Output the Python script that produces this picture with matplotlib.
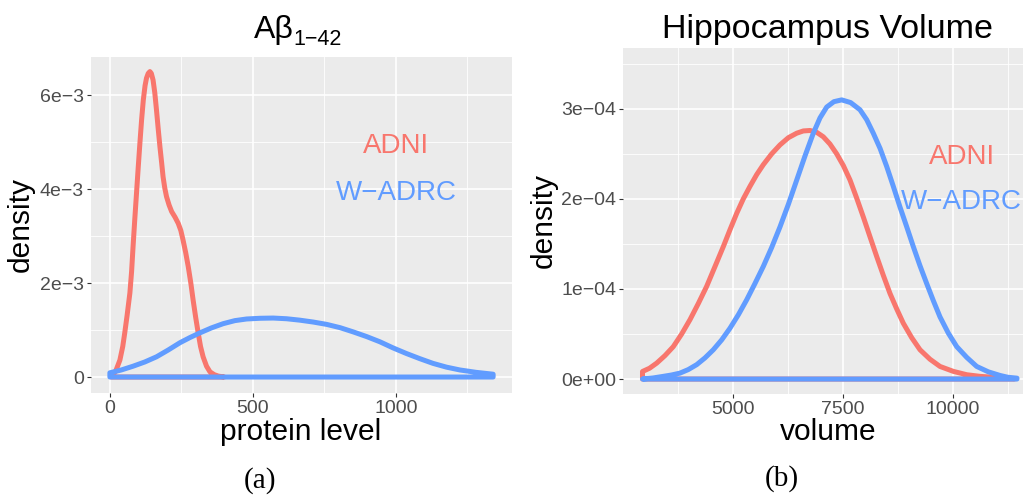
import matplotlib
matplotlib.use("Agg")
import matplotlib.pyplot as plt
from matplotlib.ticker import FixedLocator

# ---------------- data ----------------
# Panel (a): A-beta 1-42 protein level densities (y in units of 1e-3)
a_adni_x = [5, 20, 35, 45, 52, 60, 70, 76, 81, 87, 93, 99, 105, 111, 117, 123, 128,
            134, 140, 145, 151, 157, 163, 169, 175, 181, 186, 192, 198, 207, 216, 228,
            239, 248, 256, 265, 274, 283, 291, 300, 309, 317, 326, 338, 350, 365, 379,
            400]
a_adni_y = [0.02, 0.12, 0.36, 0.65, 0.94, 1.30, 1.79, 2.25, 2.77, 3.35, 3.90, 4.45,
            4.98, 5.48, 5.90, 6.20, 6.36, 6.46, 6.50, 6.46, 6.32, 6.05, 5.68, 5.28,
            4.90, 4.56, 4.26, 4.02, 3.84, 3.66, 3.52, 3.40, 3.27, 3.12, 2.91, 2.65,
            2.35, 2.00, 1.64, 1.27, 0.93, 0.65, 0.43, 0.23, 0.11, 0.05, 0.02, 0.0]
a_wadrc_x = [0, 40, 81, 122, 163, 204, 245, 280, 315, 355, 396, 437, 478, 525, 571,
             618, 664, 711, 758, 805, 851, 898, 944, 990, 1037, 1084, 1130, 1177,
             1224, 1280, 1340]
a_wadrc_y = [0.09, 0.15, 0.23, 0.32, 0.43, 0.575, 0.73, 0.84, 0.94, 1.045, 1.135, 1.20,
             1.235, 1.25, 1.255, 1.24, 1.21, 1.17, 1.12, 1.05, 0.96, 0.86, 0.75, 0.62,
             0.50, 0.39, 0.29, 0.21, 0.15, 0.10, 0.06]
a_scale = 1e-3

# Panel (b): hippocampus volume densities (y in units of 1e-4)
b_adni_x = [2950, 3110, 3273, 3460, 3650, 3840, 4030, 4220, 4409, 4598, 4786, 4940,
            5091, 5240, 5393, 5545, 5695, 5885, 6075, 6265, 6455, 6605, 6757, 6908,
            7059, 7210, 7364, 7515, 7666, 7817, 7968, 8120, 8273, 8424, 8575, 8726,
            8877, 9067, 9257, 9484, 9711, 10015, 10318, 10620, 10923, 11200, 11400]
b_adni_y = [0.084, 0.12, 0.177, 0.26, 0.36, 0.50, 0.66, 0.84, 1.03, 1.25, 1.47, 1.66,
            1.84, 2.00, 2.14, 2.27, 2.38, 2.50, 2.60, 2.68, 2.73, 2.755, 2.76, 2.74,
            2.69, 2.61, 2.50, 2.37, 2.21, 2.01, 1.80, 1.58, 1.36, 1.15, 0.95, 0.78,
            0.62, 0.46, 0.325, 0.22, 0.14, 0.085, 0.048, 0.03, 0.02, 0.01, 0.005]
b_wadrc_x = [2950, 3190, 3423, 3610, 3802, 3990, 4182, 4370, 4559, 4750, 4939, 5130,
             5318, 5505, 5695, 5885, 6075, 6265, 6455, 6645, 6832, 6984, 7136, 7300,
             7477, 7680, 7893, 8045, 8195, 8350, 8500, 8650, 8802, 8955, 9105, 9255,
             9409, 9560, 9711, 9900, 10091, 10320, 10545, 10810, 11075, 11250, 11460]
b_wadrc_y = [0.0, 0.012, 0.03, 0.045, 0.066, 0.105, 0.16, 0.235, 0.325, 0.435, 0.565,
             0.715, 0.88, 1.06, 1.25, 1.46, 1.69, 1.94, 2.21, 2.48, 2.73, 2.90, 3.02,
             3.08, 3.10, 3.07, 2.99, 2.88, 2.73, 2.56, 2.36, 2.14, 1.91, 1.69, 1.47,
             1.26, 1.06, 0.87, 0.69, 0.51, 0.36, 0.24, 0.14, 0.08, 0.04, 0.02, 0.01]
b_scale = 1e-4

group_names = ["ADNI", "W\u2212ADRC"]

a_xticks = [0, 500, 1000]
a_xtick_labels = ["0", "500", "1000"]
a_yticks = [0, 2e-3, 4e-3, 6e-3]
a_ytick_labels = ["0", "2e\u22123", "4e\u22123", "6e\u22123"]
b_xticks = [5000, 7500, 10000]
b_xtick_labels = ["5000", "7500", "10000"]
b_yticks = [0, 1e-4, 2e-4, 3e-4]
b_ytick_labels = ["0e+00", "1e\u221204", "2e\u221204", "3e\u221204"]

# ---------------- style ----------------
RED = "#F8766D"
BLUE = "#619CFF"
BG = "#EBEBEB"
plt.rcParams["font.family"] = ["Liberation Sans", "DejaVu Sans"]

W, H = 1023, 496
fig = plt.figure(figsize=(W / 100, H / 100), dpi=100)


def add_axes_px(left, right, top, bottom):
    return fig.add_axes([left / W, 1 - bottom / H, (right - left) / W, (bottom - top) / H])


def fx(px):
    return px / W


def fy(py):
    return 1 - py / H


def style_axes(ax, xticks, xlabels, yticks, ylabels, xminor, yminor):
    ax.set_facecolor(BG)
    for s in ax.spines.values():
        s.set_visible(False)
    ax.set_xticks(xticks)
    ax.set_xticklabels(xlabels)
    ax.set_yticks(yticks)
    ax.set_yticklabels(ylabels)
    ax.xaxis.set_minor_locator(FixedLocator(xminor))
    ax.yaxis.set_minor_locator(FixedLocator(yminor))
    ax.grid(which="major", color="white", linewidth=1.2)
    ax.grid(which="minor", color="white", linewidth=0.6)
    ax.set_axisbelow(True)
    ax.tick_params(which="major", length=3.0, width=0.8, color="#333333",
                   labelsize=14, labelcolor="#4D4D4D", pad=2)
    ax.tick_params(which="minor", length=0)


def draw_density(ax, xs, ys, scale, color):
    px = list(xs) + [xs[-1], xs[0]]
    py = [v * scale for v in ys] + [0.0, 0.0]
    ax.fill(px, py, facecolor="none", edgecolor=color, linewidth=3.6,
            joinstyle="round", capstyle="round")


# ---------------- panel (a) ----------------
ax1 = add_axes_px(91, 512, 57, 393)
draw_density(ax1, a_adni_x, a_adni_y, a_scale, RED)
draw_density(ax1, a_wadrc_x, a_wadrc_y, a_scale, BLUE)
ax1.set_xlim(-66, 1406)
ax1.set_ylim(-0.34e-3, 6.81e-3)
style_axes(ax1, a_xticks, a_xtick_labels, a_yticks, a_ytick_labels,
           [250, 750, 1250], [1e-3, 3e-3, 5e-3])
ax1.text(1000, 4.76e-3, group_names[0], color=RED, fontsize=20, ha="center", va="baseline")
ax1.text(1000, 3.77e-3, group_names[1], color=BLUE, fontsize=20, ha="center", va="baseline")

fig.text(fx(294), fy(38.3), "A\u03b2", fontsize=23, ha="right", va="baseline")
fig.text(fx(293), fy(45), "1\u221242", fontsize=15.5, ha="left", va="baseline")
fig.text(fx(301), fy(440), "protein level", fontsize=21.5, ha="center", va="baseline")
fig.text(fx(21), fy(225), "density", fontsize=21.5, ha="center", va="center",
         rotation=90)
fig.text(fx(260), fy(481), "(a)", fontsize=21, ha="center", va="center",
         family="Liberation Serif")

# ---------------- panel (b) ----------------
ax2 = add_axes_px(623, 1035, 48, 394)
draw_density(ax2, b_adni_x, b_adni_y, b_scale, RED)
draw_density(ax2, b_wadrc_x, b_wadrc_y, b_scale, BLUE)
ax2.set_xlim(2507, 11870)
ax2.set_ylim(-0.166e-4, 3.676e-4)
style_axes(ax2, b_xticks, b_xtick_labels, b_yticks, b_ytick_labels,
           [3750, 6250, 8750, 11250], [0.5e-4, 1.5e-4, 2.5e-4, 3.5e-4])
ax2.text(10200, 2.39e-4, group_names[0], color=RED, fontsize=20, ha="center", va="baseline")
ax2.text(10200, 1.89e-4, group_names[1], color=BLUE, fontsize=20, ha="center", va="baseline")

fig.text(fx(828), fy(38.3), "Hippocampus Volume", fontsize=24.5, ha="center", va="baseline")
fig.text(fx(828), fy(440), "volume", fontsize=21.5, ha="center", va="baseline")
fig.text(fx(544), fy(221), "density", fontsize=21.5, ha="center", va="center",
         rotation=90)
fig.text(fx(782), fy(479), "(b)", fontsize=21, ha="center", va="center",
         family="Liberation Serif")

fig.savefig("out.png", dpi=100, facecolor="white")
